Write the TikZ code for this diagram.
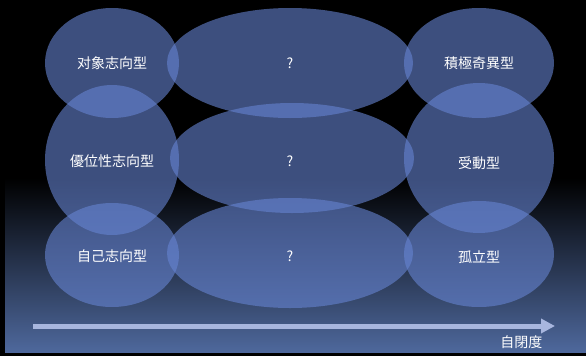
\documentclass[tikz,border=0pt]{standalone}
\usepackage{fontspec}
\newfontfamily\cjk{Noto Sans CJK JP}
\usetikzlibrary{arrows.meta}
\definecolor{ellfill}{RGB}{102,132,210}
\definecolor{bgblue}{RGB}{78,104,156}
\definecolor{arrowc}{RGB}{168,182,222}
\tikzset{
  lbl/.style={text=white, font=\cjk\fontsize{14}{16}\selectfont},
  blobfill/.style={fill=ellfill, opacity=0.6},
}
\begin{document}
\begin{tikzpicture}[x=1pt,y=-1pt]
\useasboundingbox (0,0) rectangle (586,356);
\fill[black] (0,0) rectangle (586,356);
\shade[top color=black, bottom color=bgblue] (5,178) rectangle (586,352);
% ellipses
\fill[blobfill] (112,63) ellipse [x radius=67, y radius=55];
\fill[blobfill] (112,160) ellipse [x radius=67, y radius=75];
\fill[blobfill] (112,255) ellipse [x radius=67, y radius=52];
\fill[blobfill] (290,63) ellipse [x radius=123, y radius=55];
\fill[blobfill] (292,158) ellipse [x radius=122, y radius=55];
\fill[blobfill] (290,253) ellipse [x radius=123, y radius=55];
\fill[blobfill] (479,63) ellipse [x radius=75, y radius=55];
\fill[blobfill] (479,158) ellipse [x radius=75, y radius=75];
\fill[blobfill] (479,254) ellipse [x radius=75, y radius=53];
% labels
\node[lbl] (a1) at (112,63) {对象志向型};
\node[lbl] (a2) at (112,161) {優位性志向型};
\node[lbl] (a3) at (112,256) {自己志向型};
\node[lbl] (b1) at (290,63) {?};
\node[lbl] (b2) at (290,161) {?};
\node[lbl] (b3) at (290,256) {?};
\node[lbl] (c1) at (479,63) {積極奇異型};
\node[lbl] (c2) at (479,163) {受動型};
\node[lbl] (c3) at (479,257) {孤立型};
% axis
\coordinate (s) at (33,326);
\coordinate (e) at (555,326);
\draw[arrowc, line width=5pt, -{Triangle[length=14pt, width=14pt]}] (s) -- (e);
\node[lbl, anchor=east] (ax) at (546,342) {自閉度};
\end{tikzpicture}
\end{document}
